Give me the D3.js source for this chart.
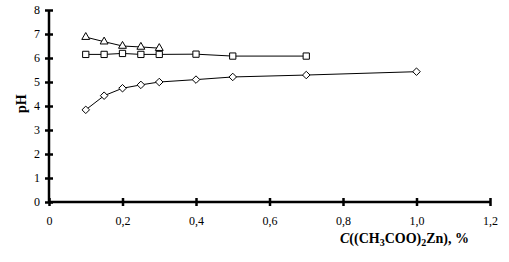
<!DOCTYPE html>
<html lang="en">
<head>
    <meta charset="UTF-8">
    <title>pH vs C((CH3COO)2Zn)</title>
    <script src="https://cdnjs.cloudflare.com/ajax/libs/d3/7.8.5/d3.min.js"></script>
    <style>
        * { margin: 0; padding: 0; }
        body { background: #fff; width: 509px; height: 262px; overflow: hidden; }
        svg, svg text { font-family: "Liberation Serif", "Times New Roman", serif; }
        .axis path, .axis line { stroke: #000; stroke-width: 2.5; }
        .axis text { font-size: 12px; fill: #000; }
        .series { fill: none; stroke: #000; stroke-width: 1; }
        .marker { fill: #fff; stroke: #000; stroke-width: 1; }
    </style>
</head>
<body>
    <div id="chart"></div>
    <script>
        // concentration, %
        const xDiamond = [0.1, 0.15, 0.2, 0.25, 0.3, 0.4, 0.5, 0.7, 1.0];
        const phDiamond = [3.84, 4.43, 4.74, 4.88, 5.0, 5.1, 5.21, 5.29, 5.43];
        const xSquare = [0.1, 0.15, 0.2, 0.25, 0.3, 0.4, 0.5, 0.7];
        const phSquare = [6.15, 6.15, 6.19, 6.15, 6.15, 6.16, 6.08, 6.08];
        const xTriangle = [0.1, 0.15, 0.2, 0.25, 0.3];
        const phTriangle = [6.87, 6.68, 6.5, 6.46, 6.41];

        const xTicks = [0, 0.2, 0.4, 0.6, 0.8, 1.0, 1.2];
        const yTicks = [0, 1, 2, 3, 4, 5, 6, 7, 8];

        const width = 509, height = 262;
        const svg = d3.select('#chart').append('svg')
            .attr('width', width)
            .attr('height', height);

        const x = d3.scaleLinear().domain([0, 1.2]).range([49, 490]);
        const y = d3.scaleLinear().domain([0, 8]).range([202, 10]);

        const fmt = d => d === 0 ? '0' : d3.format('.1f')(d).replace('.', ',');

        // axes, ticks cross the axis line
        const xAxis = svg.append('g')
            .attr('class', 'axis')
            .attr('transform', `translate(0,${y(0)})`)
            .call(d3.axisBottom(x).tickValues(xTicks).tickFormat(fmt).tickSize(0).tickPadding(14));
        xAxis.attr('font-family', null);
        xAxis.selectAll('.tick line').attr('y1', -4).attr('y2', 4);
        xAxis.select('.domain').attr('d', `M${x(0)},0H${x(1.2)}`);

        const yAxis = svg.append('g')
            .attr('class', 'axis')
            .attr('transform', `translate(${x(0)},0)`)
            .call(d3.axisLeft(y).tickValues(yTicks).tickFormat(d3.format('d')).tickSize(0).tickPadding(9));
        yAxis.attr('font-family', null);
        yAxis.selectAll('.tick line').attr('x1', -4).attr('x2', 4);
        yAxis.select('.domain').attr('d', `M0,${y(0)}V${y(8)}`);

        const line = d3.line().x(d => x(d[0])).y(d => y(d[1]));

        function drawSeries(xs, ys, symbolType, size) {
            const pts = xs.map((v, i) => [v, ys[i]]);
            svg.append('path').attr('class', 'series').attr('d', line(pts));
            svg.append('g').selectAll('path')
                .data(pts)
                .enter().append('path')
                .attr('class', 'marker')
                .attr('transform', d => `translate(${x(d[0])},${y(d[1])})`)
                .attr('d', d3.symbol().type(symbolType).size(size)());
        }

        drawSeries(xDiamond, phDiamond, d3.symbolDiamond2, 36);
        drawSeries(xSquare, phSquare, d3.symbolSquare2, 50);
        drawSeries(xTriangle, phTriangle, d3.symbolTriangle2, 45);

        // axis titles
        svg.append('text')
            .attr('transform', `translate(26,${y(4.1)}) rotate(-90)`)
            .attr('text-anchor', 'middle')
            .attr('font-size', 14)
            .attr('font-weight', 'bold')
            .text('pH');

        const xt = svg.append('text')
            .attr('x', 340)
            .attr('y', 243)
            .attr('font-size', 14)
            .attr('font-weight', 'bold');
        xt.append('tspan').attr('font-style', 'italic').text('C');
        xt.append('tspan').text('((CH');
        xt.append('tspan').attr('font-size', 10).attr('dy', 3).text('3');
        xt.append('tspan').attr('dy', -3).text('COO)');
        xt.append('tspan').attr('font-size', 10).attr('dy', 3).text('2');
        xt.append('tspan').attr('dy', -3).text('Zn), %');
    </script>
</body>
</html>
